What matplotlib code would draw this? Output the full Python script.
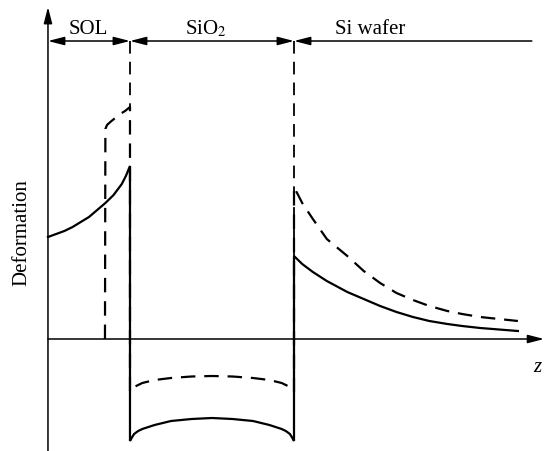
import matplotlib.pyplot as plt
from matplotlib.patches import FancyArrowPatch

# layer boundaries along z (SOL | SiO2 | Si wafer)
z_sol = 1.0
z_box = 3.0

# SOL layer
sol_z = [0.0, 0.1, 0.2, 0.3, 0.4, 0.5, 0.6, 0.7, 0.8, 0.9, 0.95, 1.0]
sol_solid = [1.02, 1.05, 1.08, 1.12, 1.17, 1.22, 1.29, 1.36, 1.44, 1.55, 1.63, 1.73]
sol_dash_z = [0.695, 0.70, 0.72, 0.76, 0.82, 0.88, 0.94, 1.0]
sol_dash = [0.0, 2.10, 2.14, 2.17, 2.21, 2.25, 2.28, 2.32]

# buried oxide
box_z = [1.0, 1.02, 1.05, 1.1, 1.15, 1.3, 1.5, 1.75, 2.0, 2.25, 2.5, 2.7, 2.85, 2.9, 2.95, 2.98, 3.0]
box_solid = [-1.02, -0.99, -0.95, -0.92, -0.90, -0.86, -0.82, -0.80, -0.79,
             -0.80, -0.82, -0.86, -0.90, -0.92, -0.95, -0.99, -1.02]
box_dash = [-0.53, -0.51, -0.48, -0.46, -0.44, -0.41, -0.39, -0.375, -0.37,
            -0.375, -0.39, -0.41, -0.44, -0.46, -0.48, -0.51, -0.53]

# silicon substrate
si_z = [3.0, 3.1, 3.23, 3.4, 3.65, 3.85, 4.05, 4.25, 4.45, 4.65, 4.87, 5.05, 5.27, 5.5, 5.73]
si_solid = [0.83, 0.75, 0.67, 0.58, 0.47, 0.40, 0.33, 0.27, 0.22, 0.18, 0.15, 0.13, 0.11, 0.095, 0.08]
si_dash = [1.52, 1.36, 1.20, 1.00, 0.83, 0.68, 0.56, 0.46, 0.39, 0.33, 0.28, 0.25, 0.22, 0.20, 0.18]

layer_labels = ['SOL', 'SiO$_2$', 'Si wafer']
label_z = [0.49, 1.93, 3.93]

plt.rcParams['font.family'] = ['Liberation Serif', 'DejaVu Serif']
plt.rcParams['mathtext.fontset'] = 'stix'

fig = plt.figure(figsize=(5.47, 4.52), dpi=100)
ax = fig.add_axes([0, 0, 1, 1])
ax.set_xlim(-0.585, 6.085)
ax.set_ylim(-1.12, 3.40)
ax.axis('off')

lw = 1.6
k = 'black'

# full profiles, including the jumps at the interfaces
solid_z = sol_z + box_z + si_z
solid_d = sol_solid + box_solid + si_solid
ax.plot(solid_z, solid_d, color=k, lw=lw, solid_joinstyle='miter')

dash_z = sol_dash_z + box_z + si_z
dash_d = sol_dash + box_dash + si_dash
ax.plot(dash_z, dash_d, color=k, lw=lw, dashes=(6.5, 4))

# dimension line with the layer widths
y_dim = 2.98
for z in (z_sol, z_box):
    top = sol_dash[-1] if z == z_sol else si_solid[0]
    ax.plot([z, z], [y_dim, top], color=k, lw=1.3, dashes=(7, 4.5))


def arrow(a, b, style):
    ax.add_patch(FancyArrowPatch(a, b, arrowstyle=style + ',head_length=0.7,head_width=0.18',
                                 mutation_scale=14, color=k, lw=1.1, shrinkA=0, shrinkB=0))


arrow((0, y_dim), (z_sol, y_dim), '<|-|>')
arrow((z_sol, y_dim), (z_box, y_dim), '<|-|>')
arrow((z_box, y_dim), (5.90, y_dim), '<|-')

for z, name in zip(label_z, layer_labels):
    ax.text(z, 3.06, name, ha='center', va='baseline', fontsize=15)

# coordinate axes
arrow((0, -1.12), (0, 3.32), '-|>')
arrow((0, 0), (6.05, 0), '-|>')

ax.text(5.97, -0.28, 'z', ha='center', va='center', fontsize=15, style='italic')
ax.text(-0.32, 1.07, 'Deformation', ha='center', va='center', rotation=90, fontsize=15)

fig.savefig('out.png', dpi=100)
